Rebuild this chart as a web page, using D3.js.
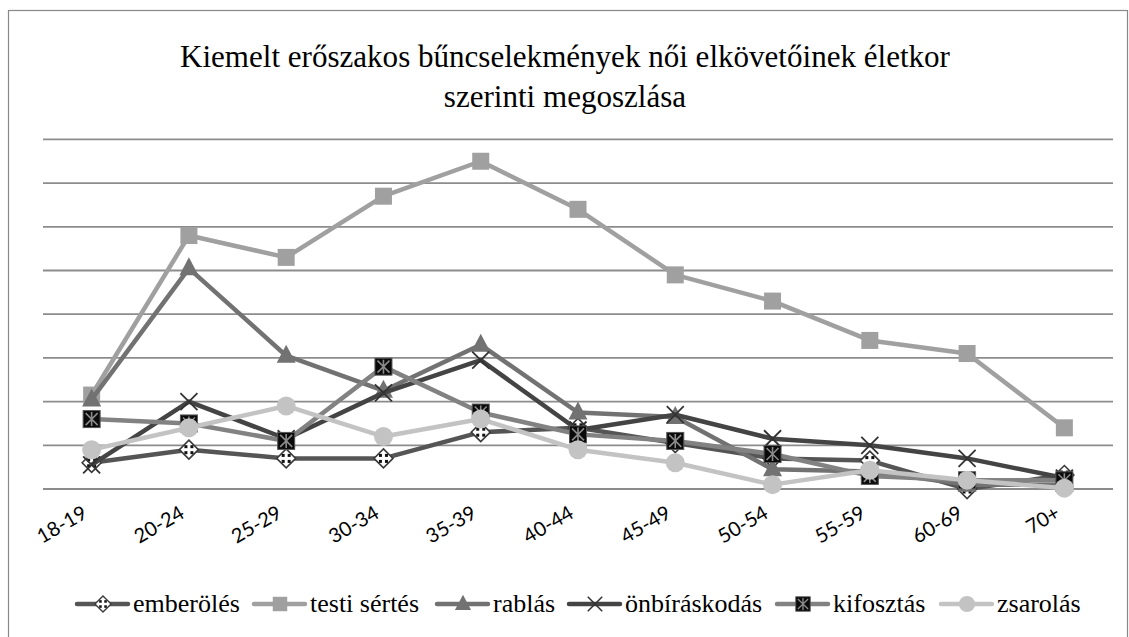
<!DOCTYPE html>
<html><head><meta charset="utf-8">
<script src="https://cdn.jsdelivr.net/npm/d3@7"></script>
<style>body{margin:0;background:#fff}svg{display:block}</style>
</head><body>
<script>
const categories = ["18-19","20-24","25-29","30-34","35-39","40-44","45-49","50-54","55-59","60-69","70+"];
const emberoles = [6, 9, 7, 7, 13, 14, 10.5, 7, 6.5, 0, 3.2];
const testiSertes = [21.5, 58, 53, 67, 75, 64, 49, 43, 34, 31, 14];
const rablas = [20.5, 50.5, 30.5, 22.5, 33, 17.5, 16.5, 4.5, 4, 1, 1];
const onbiraskodas = [5.5, 20, 11.5, 22, 29.5, 13.5, 17, 11.5, 10, 7, 2.5];
const kifosztas = [16, 15, 11, 28, 17.5, 12.5, 11, 8, 3, 2, 2];
const zsarolas = [9, 14, 19, 12, 16, 9, 6, 1, 4.3, 2, 0.2];
const seriesNames = ["emberölés","testi sértés","rablás","önbíráskodás","kifosztás","zsarolás"];
const yTicks = [0,10,20,30,40,50,60,70,80];
const titleLines = ["Kiemelt erőszakos bűncselekmények női elkövetőinek életkor","szerinti megoszlása"];

const SERIF = "'Liberation Serif', 'Times New Roman', serif";
const SANS = "'Lato', 'Open Sans', sans-serif";

const series = [
  {name: seriesNames[0], values: emberoles, color: "#555555", marker: "diamond"},
  {name: seriesNames[1], values: testiSertes, color: "#a0a0a0", marker: "square"},
  {name: seriesNames[2], values: rablas, color: "#727272", marker: "triangle"},
  {name: seriesNames[3], values: onbiraskodas, color: "#444444", marker: "x"},
  {name: seriesNames[4], values: kifosztas, color: "#828282", marker: "patsquare"},
  {name: seriesNames[5], values: zsarolas, color: "#c3c3c3", marker: "circle"}
];

const W = 1129, H = 637;
const svg = d3.select("body").append("svg").attr("width", W).attr("height", H);

svg.append("rect").attr("x", 8.5).attr("y", 10.5).attr("width", 1119).attr("height", 640)
  .attr("fill", "#fff").attr("stroke", "#888").attr("stroke-width", 1.2);

const x = d3.scaleBand().domain(categories).range([43, 1113]);
const y = d3.scaleLinear().domain([0, 80]).range([489, 139.4]);

// title
const tt = svg.append("g").selectAll("text").data(titleLines).join("text")
  .attr("x", 565).attr("y", (d,i) => 67 + i*40)
  .attr("text-anchor", "middle")
  .style("font-family", SERIF)
  .style("font-size", "28px").attr("fill", "#000").text(d => d);
const w0 = tt.nodes()[0].getComputedTextLength();
if (w0 > 0) tt.style("font-size", (28 * 770 / w0).toFixed(2) + "px");

// gridlines
svg.append("g").selectAll("line").data(yTicks).join("line")
  .attr("x1", 43).attr("x2", 1113)
  .attr("y1", d => y(d)).attr("y2", d => y(d))
  .attr("stroke", "#8c8c8c").attr("stroke-width", 1.8);

// x axis labels
const xAxis = d3.axisBottom(x).tickSize(0).tickPadding(0);
const gx = svg.append("g").attr("transform", `translate(0,${y(0)})`).call(xAxis);
gx.select(".domain").remove();
gx.selectAll("text")
  .style("font-family", SANS).style("font-size", "20px").attr("fill", "#000")
  .attr("text-anchor", "end").attr("dy", 0)
  .attr("transform", "translate(-3,28) rotate(-30)");

function drawMarker(g, type, color) {
  if (type === "diamond") {
    g.append("path").attr("d", "M0,-9.5L9.5,0L0,9.5L-9.5,0Z").attr("fill", "#fff").attr("stroke", "#3a3a3a").attr("stroke-width", 1.6);
    [[-3,-3],[3,3],[3,-3],[-3,3]].forEach(p => g.append("rect").attr("x", p[0]-1.5).attr("y", p[1]-1.5).attr("width", 3).attr("height", 3).attr("fill", "#111"));
  } else if (type === "square") {
    g.append("rect").attr("x", -8.5).attr("y", -8.5).attr("width", 17).attr("height", 17).attr("fill", color);
  } else if (type === "triangle") {
    g.append("path").attr("d", "M0,-11L9.5,7L-9.5,7Z").attr("fill", color);
  } else if (type === "x") {
    g.append("path").attr("d", "M-8.5,-8.5L8.5,8.5M8.5,-8.5L-8.5,8.5").attr("stroke", color).attr("stroke-width", 1.8).attr("fill", "none");
  } else if (type === "patsquare") {
    g.append("rect").attr("x", -8.5).attr("y", -8.5).attr("width", 17).attr("height", 17).attr("fill", "#0a0a0a").attr("stroke", "#555").attr("stroke-width", 1);
    g.append("path").attr("d", "M-6,-6L6,6M6,-6L-6,6M0,-7L0,7").attr("stroke", "#8a8a8a").attr("stroke-width", 1.6);
  } else if (type === "circle") {
    g.append("circle").attr("r", 9.5).attr("fill", color);
  }
}

const line = d3.line().x((d,i) => x(categories[i]) + x.bandwidth()/2).y(d => y(d));

series.forEach(s => {
  const g = svg.append("g");
  g.append("path").attr("d", line(s.values)).attr("fill", "none")
    .attr("stroke", s.color).attr("stroke-width", 4.5).attr("stroke-linejoin", "round");
  s.values.forEach((v,i) => {
    const m = g.append("g").attr("transform", `translate(${x(categories[i]) + x.bandwidth()/2},${y(v)})`);
    drawMarker(m, s.marker, s.marker === "x" ? "#333" : s.color);
  });
});

// legend
const legendX = [75, 252, 435, 567, 775, 939];
const lg = svg.append("g").attr("transform", "translate(0,604)");
series.forEach((s,i) => {
  const g = lg.append("g").attr("transform", `translate(${legendX[i]},0)`);
  g.append("line").attr("x1", 2).attr("x2", 53).attr("stroke", s.color).attr("stroke-width", 4.5).attr("stroke-linecap", "round");
  const m = g.append("g").attr("transform", "translate(28,0) scale(0.85)");
  drawMarker(m, s.marker, s.marker === "x" ? "#333" : s.color);
  g.append("text").attr("x", 58).attr("y", 8)
    .style("font-family", SERIF).style("font-size", "26px").attr("fill", "#000").text(s.name);
});
</script>
</body></html>
